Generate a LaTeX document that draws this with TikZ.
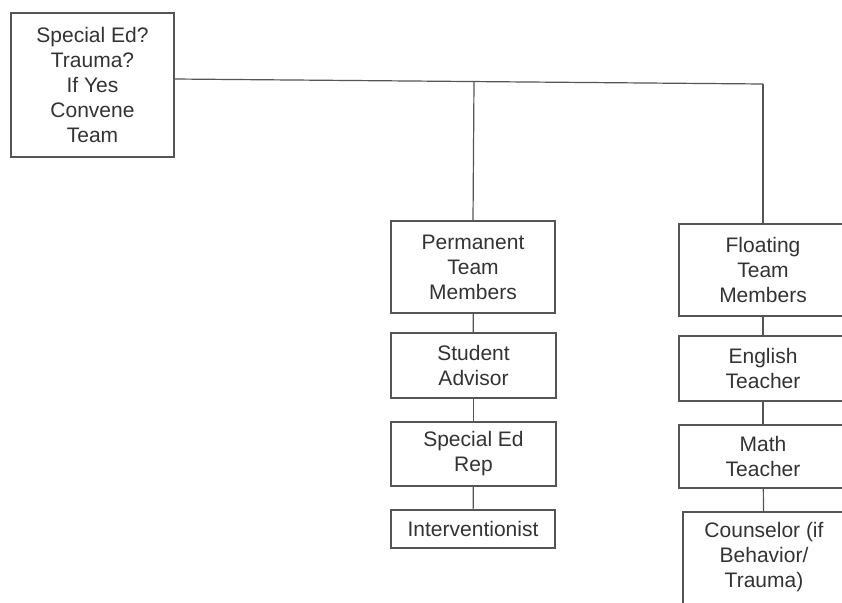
\documentclass[tikz,border=0pt]{standalone}
\usepackage{fontspec}
\setmainfont{Liberation Sans}
\definecolor{boxline}{HTML}{555555}
\definecolor{txt}{HTML}{333333}
\begin{document}
\begin{tikzpicture}[x=1pt,y=-1pt,
  box/.style={draw=boxline,line width=1.2pt,align=center,text=txt,inner sep=0pt,
    font=\fontsize{21}{25}\selectfont},
  conn/.style={draw=boxline,line width=1.2pt}]
\useasboundingbox (0,0) rectangle (842,602);
\clip (0,0) rectangle (842,602);
\fill[white] (0,0) rectangle (842,602);
\node[box,minimum width=163pt,minimum height=144pt] (top) at (92.5,85) {Special Ed?\\Trauma?\\If Yes\\Convene\\Team};
\node[box,minimum width=164pt,minimum height=92pt] (perm) at (473,267) {Permanent\\Team\\Members};
\node[box,minimum width=165pt,minimum height=65pt] (stud) at (473.5,365.5) {Student\\Advisor};
\node[box,minimum width=165pt,minimum height=64pt] (sped) at (473.5,454) {Special Ed\\Rep};
\node[box,minimum width=164pt,minimum height=38pt] (intv) at (473,529) {Interventionist};
\node[box,minimum width=168pt,minimum height=92pt] (flt) at (763,270) {Floating\\Team\\Members};
\node[box,minimum width=168pt,minimum height=65pt] (eng) at (763,368.5) {English\\Teacher};
\node[box,minimum width=168pt,minimum height=63pt] (math) at (763,456.5) {Math\\Teacher};
\node[box,minimum width=162pt,minimum height=100pt,text depth=14pt] (coun) at (764,562) {Counselor (if\\Behavior/\\Trauma)};
\coordinate (s) at (174,79);
\coordinate (j1) at (474,81.5);
\coordinate (j2) at (763,84);
\draw[conn] (s) -- (j2);
\draw[conn] (j1) -- (perm.north);
\draw[conn] (j2) -- (flt.north);
\draw[conn] (perm) -- (stud);
\draw[conn] (stud) -- (sped);
\draw[conn] (sped) -- (intv);
\draw[conn] (flt) -- (eng);
\draw[conn] (eng) -- (math);
\draw[conn] (math) -- (coun);
\end{tikzpicture}
\end{document}
